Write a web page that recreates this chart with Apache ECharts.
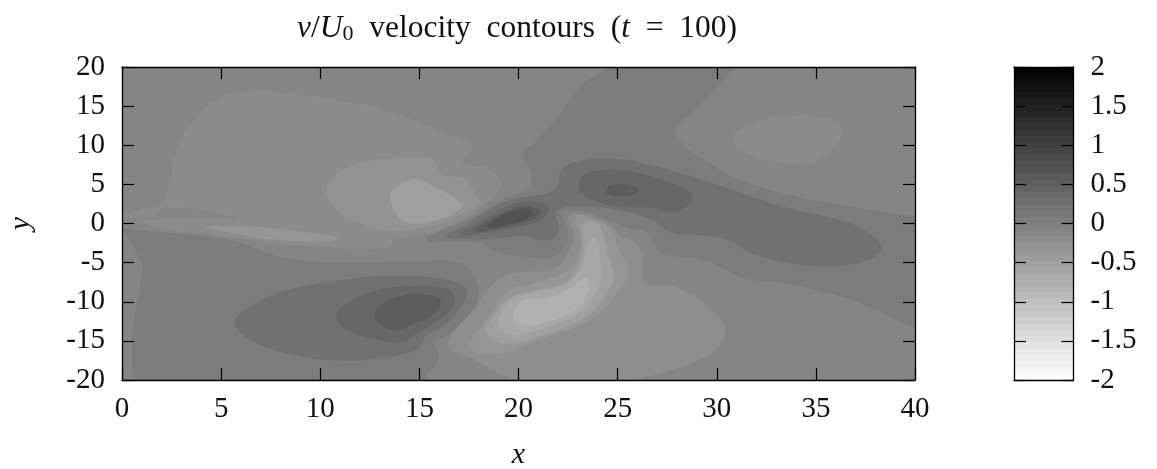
<!DOCTYPE html>
<html><head><meta charset="utf-8">
<style>html,body{margin:0;padding:0;background:#fff}#c{width:1157px;height:469px}</style>
<script src="https://cdn.jsdelivr.net/npm/echarts@6/dist/echarts.min.js"></script>
</head><body><div id="c"></div>
<script>
// axis ticks
const xTicks = [0, 40, 5];
const yTicks = [-20, 20, 5];
const barTicks = [-2, 2, 0.5];
// contour outlines in data units (x, y), each filled at its contour value
const baseValue = -0.09;
const topBand = [[24.7,20],[25,21],[31,21],[30.9,20],[29.9,17.1],[28.9,14.5],[27.9,11.8],[28.4,9.9],[29.9,7.3],[30.8,6],[33.3,3.9],[36.7,2.2],[40,0.9],[41,0.5],[41,-13.8],[40,-13.35],[38.35,-11.4],[36.7,-9.7],[35,-8.5],[33.3,-7.6],[31.6,-7.2],[30.6,-6.1],[29.3,-4.6],[27.9,-4.2],[27.2,-3.8],[26.83,-2.5],[26.5,-1.2],[25.57,-0.57],[24.56,0.28],[23.3,1.55],[22.54,1.68],[22.2,1.26],[22.3,0.49],[22.5,-1.2],[22.3,-3.13],[21.6,-4.4],[20.4,-4.3],[19.4,-4],[18.5,-3.26],[18.1,-2.5],[16.6,-2.36],[15.5,-2.3],[15.35,-1.86],[16.7,-0.36],[17.9,1.13],[18.75,2.4],[19.6,3.5],[20.35,4.1],[20.66,5.2],[20.52,7.3],[20.2,8.8],[20.85,10.5],[22,13.7],[23.05,17.3],[24.05,19.2]];
const lowerLeft = [[-0.5,-0.4],[0.08,-0.57],[1.93,-1.1],[4.46,-1.75],[6.14,-2.6],[7.3,-3.77],[8.66,-4.6],[11.2,-4.97],[14.55,-4.85],[17.07,-5.05],[17.75,-6.75],[18,-8.9],[17.6,-11.9],[16.6,-14],[15.8,-15.3],[16,-17],[15.2,-20],[15,-21],[0.6,-21],[0.59,-20],[0.5,-16.6],[0.67,-11.4],[1,-6.75],[1,-5.05],[0.59,-3.13],[0.05,-1.2],[-0.5,-1]];
const bigBlob = [[0.08,0.92],[1.09,1.98],[1.93,2.28],[2.35,4.75],[2.78,9.44],[3.78,13.7],[5.13,16.25],[6.64,16.9],[8.16,16.7],[11.2,15.6],[13.7,14.1],[16.2,11.6],[17.6,9.9],[17.2,7.7],[18.4,7.1],[19.1,5.6],[19.1,4.5],[18.75,3.5],[18.1,2],[17.4,0.7],[16.4,-0.36],[15.2,-1.43],[13.8,-2.07],[13.37,-3.13],[9.5,-2.9],[6.64,-2.2],[4.12,-1.3],[1.6,-0.45],[1,0.15]];
const leftNotch = [[-0.5,0.7],[0.08,0.7],[1.6,1],[2.1,2],[4.1,1.64],[5.9,0.7],[3.3,0.57],[1.1,0.45],[1,0.15],[0.08,0],[-0.5,0]];
const lightStrip = [[4.2,-0.45],[5.8,-0.36],[8.3,-0.79],[10.9,-1.85],[10.35,-2.28],[7.5,-2],[5.5,-1.2]];
const midBlob = [[10.3,4.1],[10.7,6],[12,7.7],[14.05,8.4],[15.56,8.3],[15.9,7.3],[16.15,6.2],[17.24,5.8],[17.66,4.5],[18,2.6],[17.24,1.34],[16.06,0.06],[14.4,-0.8],[13.2,-0.8],[12,0.06],[11,1.34]];
const innerBlob = [[13.54,3.05],[13.7,4.5],[14.6,5.7],[15.1,5.5],[17.2,2.4],[16.9,1.55],[15.9,0.4],[14.55,0.06],[13.9,0.92]];
const rightBlob = [[30.8,10.7],[31.3,12.2],[32.5,13.3],[33.8,13.8],[35.5,13.5],[36.25,12.4],[36.3,11.35],[35.8,9.4],[35.2,8.15],[34.15,7.6],[32.8,7.95],[31.6,8.8]];
const darkLobe = [[16.37,-1.64],[17.4,-0.15],[18.4,1.55],[19.4,2.83],[20.6,3.47],[21.5,3.9],[21.95,4.75],[22.2,6.9],[23.05,7.95],[24.6,8.3],[26.6,7.5],[29.95,5],[33.3,2.2],[36.7,0.06],[37.7,-1.3],[38.25,-2.6],[38.2,-3.7],[37.35,-4.85],[35.5,-5.5],[33.3,-4.85],[31.6,-3.6],[30.6,-2.1],[28.9,-1.43],[27.75,-1.2],[26.7,0.49],[24.9,1.77],[22.9,2.2],[22,1.77],[21.87,1.13],[22,0.06],[22,-1.2],[21.6,-2.07],[21.1,-2.07],[20.1,-1.64],[19.1,-1.85],[17.75,-2]];
const centreA = [[17.1,-1.43],[18.1,0.28],[19.1,1.77],[20.1,2.7],[21.1,2.7],[21.5,2],[21.36,0.92],[20.8,0.06],[19.76,-0.57],[18.4,-1.13]];
const centreB = [[17.8,-0.98],[18.6,0.5],[19.4,1.55],[20.4,2.2],[21.1,1.55],[20.85,0.7],[20.1,0.06],[18.9,-0.7]];
const centreC = [[18.47,-0.36],[19.1,0.92],[19.9,1.7],[20.5,1.7],[20.66,1.2],[20.27,0.4],[19.43,-0.15],[18.67,-0.57]];
const lobeA = [[23.05,4.5],[23.2,6],[24.05,6.75],[25.57,6.67],[27.4,5.4],[28.7,3.9],[28.75,3.05],[28.4,2],[27.75,1.43],[26.6,2],[24.9,2.2],[23.9,2.83],[23.2,3.7]];
const lobeB = [[24.4,4.24],[24.7,4.9],[25.4,5],[26.1,4.3],[25.8,3.7],[25.05,3.5],[24.55,3.7]];
const lowEllipse = [[5.7,-12.5],[6.5,-10.6],[8.16,-8.67],[11.2,-7.2],[13.7,-6.67],[15.9,-7],[17.07,-7.8],[17.4,-8.9],[16.9,-11.4],[16.2,-13.1],[15.3,-14.4],[15.1,-15.5],[14.7,-16.3],[12.87,-17.3],[10.85,-17.5],[8.66,-16.8],[6.8,-15.3],[6,-14]];
const lowInner = [[10.8,-11.87],[11.35,-10.2],[12.7,-8.67],[14.55,-8],[16.2,-8.2],[16.74,-9.1],[16.57,-11],[15.56,-13.1],[14.8,-14.2],[14.2,-15.1],[12.87,-14.85],[11.5,-13.8]];
const lowCore = [[12.73,-11.7],[13.2,-10.2],[14.2,-9.2],[15.4,-9.1],[15.98,-9.5],[16.06,-10.4],[15.56,-11.9],[14.55,-13],[13.9,-13.65],[13.2,-13.2]];
const vortexOuter = [[16.5,-15.5],[17.9,-10.4],[18.6,-8],[19.5,-6.5],[21.8,-5.7],[22.5,-3.8],[22.8,-1.64],[22.55,0.28],[22.55,1],[23.3,1.13],[24.1,0.49],[24.7,-0.36],[25.2,-1.64],[25.9,-2.5],[26.2,-3.77],[26.3,-7.2],[26.6,-7.8],[27.75,-8.03],[29.1,-9.7],[30.1,-11.9],[30.4,-13.8],[29.95,-16.1],[28.8,-17.8],[27.25,-19.1],[25.7,-20],[25,-20.6],[19.7,-20.6],[19.4,-19.7],[17.75,-17.4]];
const vortexA = [[17.5,-15.5],[18,-16.55],[19.26,-16.55],[21.1,-14.85],[23.6,-12.3],[25,-8.9],[25.57,-5.7],[25.15,-3.77],[24.5,-0.36],[23.5,0.7],[23,1.13],[22.9,0.49],[23.1,-1.43],[23,-4.2],[22.3,-6.3],[20.8,-7.6],[19.45,-8.67],[18.4,-12.3]];
const vortexB = [[18.35,-13.6],[18.75,-14.85],[19.4,-15.36],[21.1,-14.4],[23.3,-12.1],[24.5,-8.9],[24.8,-7.2],[24.56,-4.2],[24.1,-0.36],[23.7,0.28],[23.3,0.06],[23.26,-1.64],[23.2,-4.2],[22.55,-7.2],[21.1,-8.45],[19.6,-9.5],[18.6,-12.3]];
const vortexC = [[19,-12.7],[19.26,-13.8],[19.9,-14.3],[21.6,-13.1],[23.3,-11],[24.05,-8],[24.1,-4.2],[24,-2.5],[23.77,-1.85],[23.55,-2.5],[23.2,-5.3],[22.7,-7.2],[21.95,-8.25],[20.95,-8.67],[19.76,-9.7],[19.1,-11.4]];
const vortexCore = [[19.76,-11.4],[19.85,-12.5],[20.3,-13.1],[21.6,-12.5],[23.1,-10.6],[23.55,-8.45],[23.46,-7],[23.2,-7.2],[22.45,-8.45],[21.45,-9.5],[20.4,-9.7],[19.9,-10.4]];

const regions = [
  [topBand, 0.05], [lowerLeft, 0.05], [bigBlob, -0.19], [leftNotch, -0.09], [lightStrip, -0.36],
  [midBlob, -0.31], [innerBlob, -0.5], [rightBlob, -0.19],
  [darkLobe, 0.22], [centreA, 0.38], [centreB, 0.55], [centreC, 0.72], [lobeA, 0.38], [lobeB, 0.55],
  [lowEllipse, 0.22], [lowInner, 0.38], [lowCore, 0.55],
  [vortexOuter, -0.22], [vortexA, -0.36], [vortexB, -0.51], [vortexC, -0.64], [vortexCore, -0.78]
];

const FONT = '"Liberation Serif", serif';
const gray = v => { const g = Math.round(255 * (2 - v) / 4); return 'rgb(' + g + ',' + g + ',' + g + ')'; };

// stepped palette for the colour bar
const barSteps = 50;
const stops = [];
for (let i = 0; i < barSteps; i++) {
  const col = gray(2 - 4 * (i + 0.5) / barSteps);
  stops.push({offset: i / barSteps, color: col}, {offset: (i + 1) / barSteps, color: col});
}

function axisCommon(extra) {
  return Object.assign({
    type: 'value', z: 10, splitLine: {show: false},
    axisLine: {show: true, onZero: false, lineStyle: {color: '#000', width: 1.3}},
    axisTick: {show: true, inside: true, length: 12, lineStyle: {color: '#000', width: 1.2}},
    axisLabel: {show: false}
  }, extra);
}
const labelStyle = {show: true, fontFamily: FONT, fontSize: 29, color: '#111', hideOverlap: false, showMinLabel: true, showMaxLabel: true};
const xRange = {min: xTicks[0], max: xTicks[1], interval: xTicks[2]};
const yRange = {min: yTicks[0], max: yTicks[1], interval: yTicks[2]};
const bRange = {min: barTicks[0], max: barTicks[1], interval: barTicks[2]};
const nameStyle = {fontFamily: FONT, fontStyle: 'italic', fontWeight: 'normal', fontSize: 30, color: '#111'};

const chart = echarts.init(document.getElementById('c'), null, {renderer: 'canvas'});
chart.setOption({
  animation: false,
  backgroundColor: '#fff',
  title: {
    left: 297, top: 13, padding: 0,
    text: '{i|v}{n|/}{i|U}{s|0}{n|  velocity  contours  (}{i|t}{n|  =  100)}',
    textStyle: {fontWeight: 'normal', rich: {
      i: {fontFamily: FONT, fontStyle: 'italic', fontWeight: 'normal', fontSize: 31.5, color: '#111'},
      n: {fontFamily: FONT, fontWeight: 'normal', fontSize: 31.5, color: '#111'},
      s: {fontFamily: FONT, fontWeight: 'normal', fontSize: 22, color: '#111', verticalAlign: 'bottom', padding: [10, 0, 0, 0]}
    }}
  },
  grid: [
    {left: 122, top: 67, width: 793, height: 313, backgroundColor: gray(baseValue), show: true, borderWidth: 0, outerBoundsMode: 'none', containLabel: false},
    {left: 1014, top: 67, width: 59.5, height: 313, outerBoundsMode: 'none', containLabel: false}
  ],
  xAxis: [
    axisCommon(Object.assign({gridIndex: 0, position: 'bottom', axisLabel: Object.assign({}, labelStyle, {margin: 15}),
      name: 'x', nameLocation: 'middle', nameGap: 60, nameTextStyle: nameStyle}, xRange)),
    axisCommon(Object.assign({gridIndex: 0, position: 'top'}, xRange)),
    axisCommon({gridIndex: 1, position: 'bottom', min: 0, max: 1, axisTick: {show: false}}),
    axisCommon({gridIndex: 1, position: 'top', min: 0, max: 1, axisTick: {show: false}})
  ],
  yAxis: [
    axisCommon(Object.assign({gridIndex: 0, position: 'left', axisLabel: Object.assign({}, labelStyle, {margin: 17}),
      name: 'y', nameLocation: 'middle', nameGap: 86, nameRotate: 90, nameTextStyle: nameStyle}, yRange)),
    axisCommon(Object.assign({gridIndex: 0, position: 'right'}, yRange)),
    axisCommon(Object.assign({gridIndex: 1, position: 'right', axisLabel: Object.assign({}, labelStyle, {margin: 17})}, bRange)),
    axisCommon(Object.assign({gridIndex: 1, position: 'left'}, bRange))
  ],
  series: [
    {
      type: 'custom', coordinateSystem: 'cartesian2d', xAxisIndex: 0, yAxisIndex: 0,
      data: regions.map((r, i) => [i]),
      encode: {x: -1, y: -1},
      renderItem: (params, api) => {
        const r = regions[params.dataIndex];
        const cs = params.coordSys;
        return {
          type: 'polygon',
          clipPath: {type: 'rect', shape: {x: cs.x, y: cs.y, width: cs.width, height: cs.height}},
          shape: {points: r[0].map(p => api.coord(p)), smooth: 0.45},
          style: {fill: gray(r[1]), stroke: null}
        };
      }
    },
    {
      type: 'custom', coordinateSystem: 'cartesian2d', xAxisIndex: 2, yAxisIndex: 2,
      data: [[0, barTicks[1], 1, barTicks[0]]],
      encode: {x: [0, 2], y: [1, 3]},
      renderItem: (params, api) => {
        const a = api.coord([api.value(0), api.value(1)]);
        const b = api.coord([api.value(2), api.value(3)]);
        return {
          type: 'rect',
          shape: {x: a[0], y: a[1], width: b[0] - a[0], height: b[1] - a[1]},
          style: {fill: new echarts.graphic.LinearGradient(0, 0, 0, 1, stops)}
        };
      }
    }
  ]
});
</script></body></html>
